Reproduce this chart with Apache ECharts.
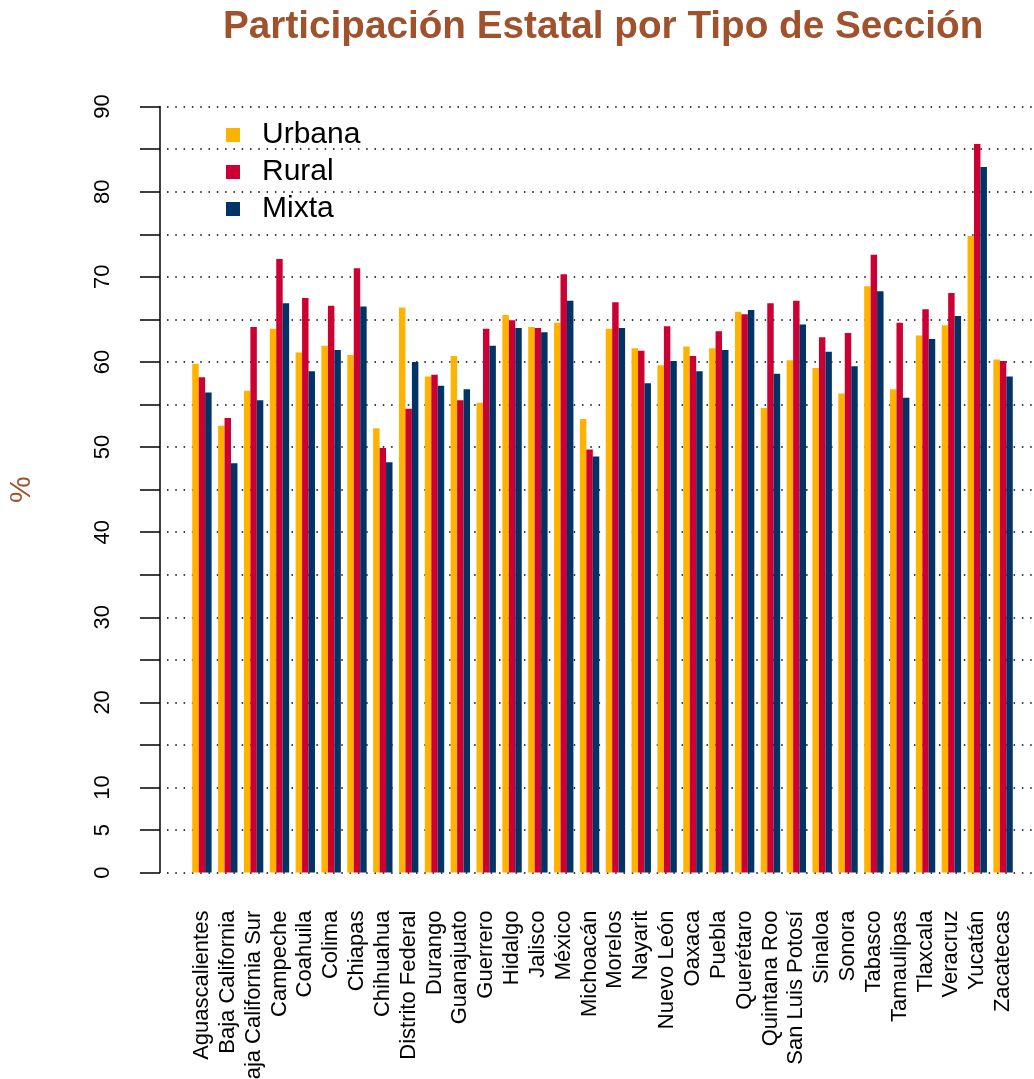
<!DOCTYPE html>
<html>
<head>
<meta charset="utf-8">
<script src="https://cdn.jsdelivr.net/npm/echarts@6/dist/echarts.min.js"></script>
<style>
  html, body { margin: 0; padding: 0; background: #fff; }
  #chart { width: 1034px; height: 1079px; }
</style>
</head>
<body>
<div id="chart"></div>
<script>
// estados
var estados = ["Aguascalientes","Baja California","Baja California Sur","Campeche","Coahuila","Colima","Chiapas","Chihuahua","Distrito Federal","Durango","Guanajuato","Guerrero","Hidalgo","Jalisco","México","Michoacán","Morelos","Nayarit","Nuevo León","Oaxaca","Puebla","Querétaro","Quintana Roo","San Luis Potosí","Sinaloa","Sonora","Tabasco","Tamaulipas","Tlaxcala","Veracruz","Yucatán","Zacatecas"];

// participación (%) por tipo de sección
var urbana = [59.8,52.5,56.6,63.9,61.1,61.9,60.8,52.2,66.4,58.3,60.7,55.2,65.5,64.1,64.6,53.3,63.9,61.6,59.6,61.8,61.6,65.9,54.6,60.2,59.3,56.3,68.9,56.8,63.1,64.3,74.8,60.3];
var rural  = [58.2,53.4,64.1,72.1,67.5,66.6,71.0,49.9,54.5,58.5,55.5,63.9,64.9,64.0,70.3,49.7,67.0,61.3,64.2,60.7,63.6,65.6,66.9,67.2,62.9,63.4,72.6,64.6,66.2,68.1,85.6,60.1];
var mixta  = [56.4,48.1,55.5,66.9,58.9,61.4,66.5,48.2,60.0,57.2,56.8,61.9,64.0,63.5,67.2,48.9,64.0,57.5,60.1,58.9,61.4,66.1,58.6,64.4,61.2,59.5,68.3,55.8,62.7,65.4,82.9,58.3];

var colores = ["#FFB300", "#CC0033", "#003366"];
var fuente = "'Liberation Sans', Arial, sans-serif";

var chart = echarts.init(document.getElementById("chart"));

// lineas punteadas de fondo
var puntos = {
  show: true,
  lineStyle: { color: "#000", width: 1.5, type: [1.5, 6.8] }
};

var option = {
  animation: false,
  color: colores,
  textStyle: { fontFamily: fuente },
  title: {
    text: "Participación Estatal por Tipo de Sección",
    left: 223,
    top: 8,
    padding: 0,
    textStyle: { color: "#A0522D", fontSize: 38.7, fontWeight: "bold", fontFamily: fuente }
  },
  legend: {
    data: ["Urbana", "Rural", "Mixta"],
    orient: "vertical",
    left: 226,
    top: 120,
    padding: 0,
    icon: "rect",
    itemWidth: 14,
    itemHeight: 14,
    itemGap: 7,
    textStyle: { fontSize: 30, color: "#000", lineHeight: 30, padding: [0, 0, 0, 17], fontFamily: fuente }
  },
  grid: [
    { left: 189, right: 18, top: 106.6, bottom: 206.4, outerBoundsMode: "none" },
    { left: 167, right: 0, top: 106.6, bottom: 206.4, outerBoundsMode: "none" }
  ],
  xAxis: [
    {
      type: "category",
      gridIndex: 0,
      data: estados,
      axisLine: { show: false },
      axisTick: { show: false },
      axisLabel: { rotate: 90, interval: 0, margin: 38, fontSize: 22, color: "#000", fontFamily: fuente }
    },
    { type: "value", gridIndex: 1, show: false, min: 0, max: 1 }
  ],
  yAxis: [
    {
      type: "value",
      gridIndex: 0,
      min: 0,
      max: 90,
      interval: 5,
      offset: 29,
      name: "%",
      nameLocation: "middle",
      nameRotate: 90,
      nameGap: 123,
      nameTextStyle: { color: "#A0522D", fontSize: 30, fontFamily: fuente },
      axisLine: { show: true, lineStyle: { color: "#000", width: 1.5 } },
      axisTick: { show: true, length: 20, lineStyle: { color: "#000", width: 1.5 } },
      axisLabel: {
        rotate: 90,
        margin: 46,
        fontSize: 22,
        color: "#000",
        fontFamily: fuente,
        formatter: function (v) { return (v > 10 && v % 10 !== 0) ? "" : String(v); }
      },
      splitLine: { show: false }
    },
    {
      type: "value",
      gridIndex: 1,
      min: 0,
      max: 90,
      interval: 5,
      axisLine: { show: false },
      axisTick: { show: false },
      axisLabel: { show: false },
      splitLine: puntos
    }
  ],
  series: [
    { name: "Urbana", type: "bar", data: urbana, barWidth: 6.46, barGap: "0%", z: 3 },
    { name: "Rural", type: "bar", data: rural, barWidth: 6.46, barGap: "0%", z: 3 },
    { name: "Mixta", type: "bar", data: mixta, barWidth: 6.46, barGap: "0%", z: 3 }
  ]
};

chart.setOption(option);
</script>
</body>
</html>
